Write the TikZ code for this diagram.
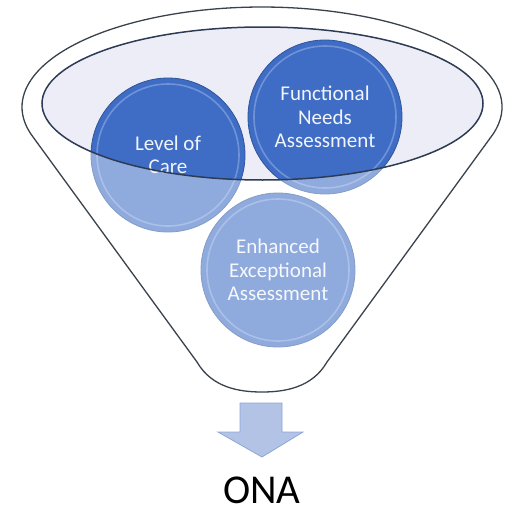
\documentclass[tikz,border=0pt]{standalone}
\usepackage{fontspec}
\setmainfont{Carlito}
\definecolor{ballblue}{HTML}{3F6DC5}
\definecolor{balledge}{HTML}{2F559A}
\definecolor{ballring}{HTML}{7A9DDC}
\definecolor{mouthfill}{HTML}{ECEDF6}
\definecolor{mouthline}{HTML}{2E3B55}
\definecolor{funnelline}{HTML}{3A424C}
\definecolor{arrowfill}{HTML}{B2C3E6}
\definecolor{arrowline}{HTML}{8EA6D8}
\definecolor{balltext}{HTML}{F0F4FB}
\begin{document}
\begin{tikzpicture}[x=1pt,y=-1pt,
  ball/.style={circle, minimum size=154pt, inner sep=0pt, fill=ballblue, draw=balledge,
    line width=0.8pt, text=balltext, align=center, font=\fontsize{21}{23.5}\selectfont},
  ringline/.style={draw=ballring, line width=1.6pt, opacity=0.8},
  funnelstroke/.style={draw=funnelline, line width=1.3pt},
  mouthstroke/.style={draw=mouthline, line width=1.5pt}
 ]
\useasboundingbox (0,0) rectangle (510,514);
\fill[white] (0,0) rectangle (510,514);
% funnel body
\fill[white] (492.7,134.6) arc[start angle=16, end angle=-196, x radius=240, y radius=100]
  -- (197,362) .. controls (212,388) and (240,392) .. (262,392)
  .. controls (284,392) and (312,388) .. (327,362) -- cycle;
% funnel mouth
\fill[mouthfill] (262.5,103.5) ellipse[x radius=220.5, y radius=76.5];
% circles
\node[ball] (loc) at (168,155) {Level of\\Care};
\node[ball] (fna) at (325,117) {Functional\\Needs\\Assessment};
\node[ball] (eea) at (278,270) {Enhanced\\Exceptional\\Assessment};
\foreach \n in {loc,fna,eea}{
  \draw[ringline] (\n.center) circle[radius=71];
}
% translucent funnel body over the circles
\fill[white, fill opacity=0.42, even odd rule]
  (492.7,134.6) arc[start angle=16, end angle=-196, x radius=240, y radius=100]
  -- (197,362) .. controls (212,388) and (240,392) .. (262,392)
  .. controls (284,392) and (312,388) .. (327,362) -- cycle
  (262.5,103.5) ellipse[x radius=220.5, y radius=76.5];
\draw[mouthstroke] (262.5,103.5) ellipse[x radius=220.5, y radius=76.5];
\draw[funnelstroke] (492.7,134.6) arc[start angle=16, end angle=-196, x radius=240, y radius=100]
  -- (197,362) .. controls (212,388) and (240,392) .. (262,392)
  .. controls (284,392) and (312,388) .. (327,362) -- cycle;
% arrow
\filldraw[fill=arrowfill, draw=arrowline, line width=0.8pt]
  (240,403) -- (282,403) -- (282,432) -- (303,432) -- (262,457) -- (218,432) -- (240,432) -- cycle;
% result
\node[anchor=base, font=\fontsize{41}{45}\selectfont, text=black, inner sep=0pt] (ona) at (262,503) {ONA};
\end{tikzpicture}
\end{document}
